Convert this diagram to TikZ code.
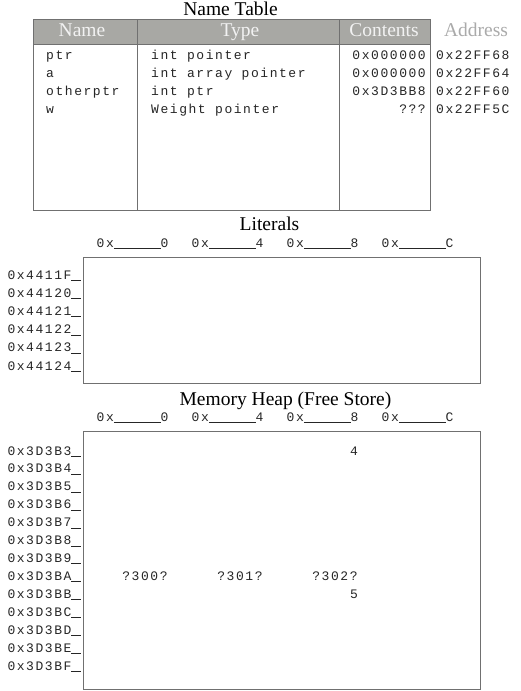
\documentclass[tikz,border=0pt]{standalone}
\usepackage{fontspec}
\setmainfont{Liberation Serif}
\newfontfamily\memfont[LetterSpace=12]{Liberation Mono}
\definecolor{boxgray}{HTML}{707070}
\definecolor{headgray}{HTML}{A8A8A4}
\definecolor{addrgray}{HTML}{AAAAAA}
\newdimen\memadv \memadv=9.36pt
\newcommand\memline[1]{\rule[-1.6pt]{#1\memadv}{0.7pt}}

\begin{document}
\begin{tikzpicture}[x=1pt, y=-1pt,
	title/.style={font=\fontsize{19.5}{21}\selectfont, inner sep=0pt, anchor=base},
	mono/.style={font=\memfont\fontsize{13}{15}\selectfont, inner sep=0pt, anchor=base west, text=black!85},
	monor/.style={mono, anchor=base east},
	monoc/.style={mono, anchor=base}]
	\useasboundingbox[fill=white] (0,0) rectangle (521,691);
	% name table
	\node[title] (tabletitle) at (230.5,15.5) {Name Table};
	\draw[color=boxgray,fill=headgray] (33,19) rectangle (430,44);
	\draw[color=boxgray,fill=white] (33,44) rectangle (430,210);
	\draw[color=boxgray] (137,19) -- (137,210);
	\draw[color=boxgray] (339,19) -- (339,210);
	\node[title, text=white!95!black] (hname) at (82,36) {Name};
	\node[title, text=white!95!black] (htype) at (240,36) {Type};
	\node[title, text=white!95!black] (hcontents) at (384,36) {Contents};
	\node[title, text=addrgray] (haddress) at (476,36) {Address};
	\node[mono] (nptr) at (46,59) {ptr};
	\node[mono] (na) at (46,77) {a};
	\node[mono] (nother) at (46,95) {otherptr};
	\node[mono] (nw) at (46,113) {w};
	\node[mono] (tptr) at (151,59) {int pointer};
	\node[mono] (ta) at (151,77) {int array pointer};
	\node[mono] (tother) at (151,95) {int ptr};
	\node[mono] (tw) at (151,113) {Weight pointer};
	\node[monor] (cptr) at (426,59) {0x000000};
	\node[monor] (ca) at (426,77) {0x000000};
	\node[monor] (cother) at (426,95) {0x3D3BB8};
	\node[monor] (cw) at (426,113) {???};
	\node[mono] (aptr) at (436,59) {0x22FF68};
	\node[mono] (aa) at (436,77) {0x22FF64};
	\node[mono] (aother) at (436,95) {0x22FF60};
	\node[mono] (aw) at (436,113) {0x22FF5C};
	% literals
	\node[title] (littitle) at (269.5,230.5) {Literals};
	\node[mono] (lcol0) at (96.5,247) {0x\memline{5}0};
	\node[mono] (lcol4) at (191.5,247) {0x\memline{5}4};
	\node[mono] (lcol8) at (286.5,247) {0x\memline{5}8};
	\node[mono] (lcolC) at (381.5,247) {0x\memline{5}C};
	\draw[color=boxgray] (83.5,257) rectangle (480.5,383);
	\node[mono] (lrowF) at (7.3,279) {0x4411F\memline{1}};
	\node[mono] (lrow0) at (7.3,297.2) {0x44120\memline{1}};
	\node[mono] (lrow1) at (7.3,315.4) {0x44121\memline{1}};
	\node[mono] (lrow2) at (7.3,333.6) {0x44122\memline{1}};
	\node[mono] (lrow3) at (7.3,351.8) {0x44123\memline{1}};
	\node[mono] (lrow4) at (7.3,370) {0x44124\memline{1}};
	% heap
	\node[title] (heaptitle) at (285.5,405.5) {Memory Heap (Free Store)};
	\node[mono] (hcol0) at (96.5,421) {0x\memline{5}0};
	\node[mono] (hcol4) at (191.5,421) {0x\memline{5}4};
	\node[mono] (hcol8) at (286.5,421) {0x\memline{5}8};
	\node[mono] (hcolC) at (381.5,421) {0x\memline{5}C};
	\draw[color=boxgray] (83.5,431) rectangle (480.5,689);
	\node[mono] (hrow3) at (7.3,455) {0x3D3B3\memline{1}};
	\node[mono] (hrow4) at (7.3,472.9) {0x3D3B4\memline{1}};
	\node[mono] (hrow5) at (7.3,490.8) {0x3D3B5\memline{1}};
	\node[mono] (hrow6) at (7.3,508.8) {0x3D3B6\memline{1}};
	\node[mono] (hrow7) at (7.3,526.7) {0x3D3B7\memline{1}};
	\node[mono] (hrow8) at (7.3,544.6) {0x3D3B8\memline{1}};
	\node[mono] (hrow9) at (7.3,562.5) {0x3D3B9\memline{1}};
	\node[mono] (hrowA) at (7.3,580.4) {0x3D3BA\memline{1}};
	\node[mono] (hrowB) at (7.3,598.3) {0x3D3BB\memline{1}};
	\node[mono] (hrowC) at (7.3,616.3) {0x3D3BC\memline{1}};
	\node[mono] (hrowD) at (7.3,634.2) {0x3D3BD\memline{1}};
	\node[mono] (hrowE) at (7.3,652.1) {0x3D3BE\memline{1}};
	\node[mono] (hrowF) at (7.3,670) {0x3D3BF\memline{1}};
	\node[monor] (val4) at (358,455) {4};
	\node[monoc] (q300) at (145,580.4) {?300?};
	\node[monoc] (q301) at (240,580.4) {?301?};
	\node[monoc] (q302) at (335,580.4) {?302?};
	\node[monor] (val5) at (358,598.3) {5};
\end{tikzpicture}
\end{document}
